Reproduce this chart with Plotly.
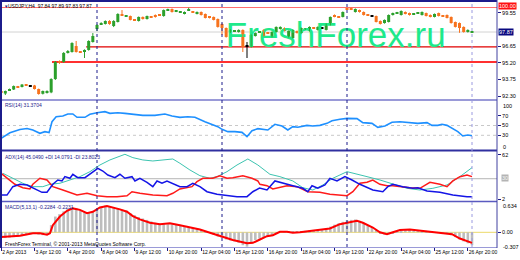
import plotly.graph_objects as go

W, H = 520, 260
def px(x): return x / W
def py(y): return 1 - y / H

# ---------------- data ----------------
bars = list(range(1, 115))
opens = [92.74, 92.52, 92.84, 92.87, 93.12, 93.09, 93.30, 93.18, 93.22, 92.91,
         92.50, 92.58, 92.62, 93.78, 95.30, 95.26, 96.05, 96.13, 96.65, 96.15,
         96.13, 96.31, 97.00, 98.13, 98.57, 98.57, 98.83, 98.39, 98.74, 99.40,
         99.24, 99.26, 98.94, 98.83, 99.18, 99.00, 99.20, 99.35, 99.37, 99.26,
         99.76, 99.87, 99.65, 99.58, 99.44, 99.76, 99.63, 99.44, 99.61, 99.44,
         99.18, 99.18, 99.00, 98.57, 98.22, 97.87, 97.94, 97.87, 98.05, 96.65,
         96.57, 97.52, 97.85, 98.05, 97.80, 97.44, 97.87, 98.13, 98.22, 97.44,
         97.35, 97.96, 97.78, 98.11, 97.96, 98.25, 98.05, 98.22, 98.05, 98.48,
         99.28, 99.20, 99.18, 99.89, 99.89, 99.61, 99.78, 99.61, 99.37, 99.26,
         99.26, 98.83, 98.65, 98.74, 99.35, 99.50, 99.35, 99.61, 99.52, 99.42,
         99.50, 99.35, 99.52, 99.35, 99.18, 99.52, 99.28, 99.35, 99.18, 98.74,
         98.65, 98.31, 97.87, 97.84]
highs = [92.80, 92.78, 92.95, 93.22, 93.18, 93.35, 93.34, 93.26, 93.27, 92.95,
         92.78, 92.80, 93.85, 95.35, 95.40, 96.12, 96.30, 96.98, 97.09, 96.20,
         96.36, 97.15, 97.78, 98.55, 98.72, 98.88, 98.90, 98.90, 99.50, 99.78,
         99.33, 99.30, 98.98, 99.22, 99.22, 99.30, 99.24, 99.40, 99.42, 99.83,
         99.90, 99.92, 99.75, 99.68, 99.66, 99.98, 99.68, 99.66, 99.66, 99.48,
         99.22, 99.22, 99.05, 98.62, 98.27, 98.10, 98.02, 98.10, 98.10, 97.00,
         97.66, 97.83, 97.94, 98.10, 97.84, 97.92, 98.36, 98.36, 98.27, 98.00,
         98.10, 98.00, 98.27, 98.20, 98.36, 98.30, 98.36, 98.27, 98.62, 99.22,
         99.40, 99.24, 99.66, 99.98, 99.98, 99.92, 99.82, 99.66, 99.40, 99.35,
         99.30, 98.88, 98.96, 99.40, 99.56, 99.62, 99.75, 99.66, 99.56, 99.50,
         99.58, 99.66, 99.56, 99.40, 99.48, 99.56, 99.32, 99.40, 99.22, 98.78,
         98.70, 98.36, 98.10, 97.89]
lows = [92.55, 92.39, 92.80, 92.83, 93.02, 93.05, 93.20, 93.10, 92.87, 92.42,
        92.44, 92.52, 92.55, 93.70, 95.10, 95.20, 96.00, 96.08, 96.08, 96.05,
        95.61, 96.25, 96.95, 97.95, 98.50, 98.52, 98.50, 98.30, 98.70, 99.30,
        99.20, 98.88, 98.85, 98.78, 98.95, 98.95, 99.10, 99.12, 99.28, 99.20,
        99.70, 99.56, 99.60, 99.53, 99.40, 99.70, 99.53, 99.40, 99.30, 99.05,
        99.05, 98.88, 98.25, 97.61, 97.38, 97.80, 97.90, 97.82, 96.13, 95.61,
        96.52, 97.48, 97.80, 97.48, 97.72, 97.40, 97.82, 98.08, 97.92, 97.40,
        97.30, 97.74, 97.74, 98.06, 97.92, 98.15, 98.00, 98.17, 98.00, 98.44,
        99.15, 99.12, 99.14, 99.78, 99.78, 99.56, 99.56, 99.30, 99.28, 99.18,
        98.70, 98.52, 98.60, 98.70, 99.30, 99.44, 99.30, 99.40, 99.30, 99.38,
        99.46, 99.30, 99.22, 99.14, 99.14, 99.22, 99.20, 99.05, 98.60, 98.26,
        97.80, 97.82, 97.82, 97.83]
closes = [92.63, 92.74, 92.88, 93.17, 93.06, 93.30, 93.24, 93.18, 92.91, 92.48,
          92.74, 92.74, 93.78, 95.26, 95.24, 96.05, 96.22, 96.91, 96.13, 96.11,
          96.31, 97.09, 97.52, 98.48, 98.65, 98.83, 98.57, 98.83, 99.44, 99.35,
          99.28, 98.92, 98.90, 99.18, 99.00, 99.26, 99.16, 99.18, 99.33, 99.78,
          99.80, 99.61, 99.70, 99.63, 99.61, 99.80, 99.58, 99.61, 99.35, 99.09,
          99.09, 98.92, 98.31, 98.22, 97.44, 98.05, 97.98, 98.05, 96.57, 96.65,
          97.61, 97.78, 97.89, 97.52, 97.76, 97.87, 98.31, 98.31, 97.96, 97.96,
          98.05, 97.78, 98.22, 98.15, 98.31, 98.20, 98.31, 98.22, 98.57, 99.18,
          99.24, 99.16, 99.61, 99.85, 99.85, 99.87, 99.61, 99.35, 99.33, 99.26,
          98.74, 98.57, 98.92, 99.35, 99.52, 99.54, 99.70, 99.44, 99.35, 99.46,
          99.54, 99.61, 99.26, 99.18, 99.44, 99.26, 99.24, 99.09, 98.65, 98.31,
          98.22, 97.87, 98.05, 97.87]

level_top = 100.00
level_bid = 97.87
level_s1 = 96.57
level_s2 = 95.26
price_ticks = [99.55, 96.65, 95.20, 93.75, 92.30]

rsi_bar = [1, 3.1, 5.5, 7.2, 8.6, 10.3, 11.5, 12.5, 13.2, 14.2, 15.8, 17, 18.2, 19.2, 21.1, 22.3, 24,
           25.9, 27.1, 29, 30.7, 32.6, 35, 37.9, 40.3, 42, 43.9, 45.8, 47.5, 49.9, 51.6, 53, 54,
           55.4, 57.1, 58.8, 60, 61.2, 62.6, 64.3, 65, 66.7, 68.4, 69.8, 71, 72.2, 74.4, 75.8,
           77.5, 79.2, 80.4, 82.3, 84, 86.4, 87.8, 90, 91.4, 93.1, 94.8, 96.7, 98.6, 101, 103.2,
           104.4, 105.8, 106.8, 108, 109.2, 110.6, 111.8, 113, 114]
rsi_val = [24, 35.3, 42, 44, 40.8, 34, 37.4, 35.4, 57.8, 68, 69.4, 73.5, 73.5, 66.7, 66.7, 72.8, 76,
           78.2, 74.8, 76, 74.8, 73.5, 70.7, 70.7, 73.5, 69.4, 66.7, 68, 66.7, 57.8, 52.4, 47.6, 42.2,
           37.4, 37.4, 36, 27.2, 39.5, 43.5, 40.8, 40.8, 52.4, 49, 40.8, 47.6, 46.3, 50.3, 49,
           50.3, 54.4, 59.8, 62.7, 64.6, 64, 55.8, 54.4, 46.3, 49, 56.5, 57.8, 55.8, 54.4, 55.8,
           50.3, 50.3, 52.4, 50.3, 44.2, 37.4, 28.6, 30.6, 29.2]

adx_bar = [1.4, 3.8, 6.2, 8.6, 11, 12.7, 15.1, 16.8, 19.9, 22.3, 24.7, 27.1, 29.5, 30.7, 32.6, 35,
           37.4, 40.8, 42.2, 43.9, 46.3, 48.7, 51.1, 52.8, 55.2, 57.6, 60.2, 62.6, 63.6, 65.5, 67.9,
           71, 73.4, 75.8, 78.2, 80.6, 84, 85.4, 88.8, 91.9, 95, 98.4, 101.5, 104.6, 108, 111.1, 114]
adx_val = [37.3, 30.6, 23.9, 19.3, 19.3, 22.5, 23.9, 27, 32.8, 39.5, 48.5, 55.3, 59.7, 62.9, 58.4, 55.3,
           53.9, 55.3, 56.6, 50.8, 41.8, 34.1, 30.6, 32.8, 39.5, 48.5, 56.6, 48.5, 44, 36, 32.8,
           27, 17.9, 14.8, 21.6, 30.6, 39.5, 37.3, 32.8, 28.3, 22.5, 17.1, 14.8, 17.1, 21.6, 32.8, 44.9]

pdi_bar = [1, 2.4, 3.8, 5.5, 7.2, 8.6, 10.8, 12, 13.4, 14.6, 15.6, 16.3, 17.5, 18.2, 19.4, 21.1, 22.3,
           24.2, 25.4, 26.6, 28.3, 29.5, 30.7, 32.4, 33.1, 34.3, 36, 37.4, 38.4, 39.6, 40.8, 42.2,
           43.9, 45.6, 47, 48.7, 50.4, 52.8, 55.2, 57.6, 60, 61.4, 63, 64.8, 66.7, 68.6, 71, 73.4,
           74.6, 75.6, 77, 78.7, 79.9, 81.6, 83.5, 85.2, 87.1, 90.2, 92.6, 93.8, 95, 97.4, 99.8,
           101, 103.2, 106.3, 109.4, 112.8, 114]
pdi_val = [8, 8, 19.3, 22.5, 21.6, 17.9, 11.7, 11.7, 22.5, 28.3, 27, 32.8, 30.6, 36, 31.4, 31.4, 36,
           44, 40.4, 35, 31.4, 36, 30.6, 32.8, 27, 30.6, 25.2, 19.3, 27, 23.9, 27, 23.9,
           19.3, 19.3, 23.9, 19.3, 12.5, 9, 7.1, 5.8, 5.8, 12.5, 17.5, 14.8, 27, 23.9, 20.6, 17.1,
           12.5, 20.6, 17.1, 21.6, 30.6, 27, 32.8, 28.3, 22.5, 14.8, 12.5, 19.3, 22.5, 19.3, 17.1,
           17.9, 13.5, 11.7, 8, 5.8, 5.8]

mdi_bar = [1, 2.4, 4.3, 6.2, 7.9, 8.6, 10.3, 12, 13.4, 15.8, 19.2, 21.6, 24, 26.4, 28.8, 31.2, 32.4,
           34.3, 37.4, 40.8, 42.2, 43.9, 45.6, 46.8, 48, 49.4, 51.8, 53.5, 55.2, 56.6, 59, 61.2,
           62.6, 63.1, 64.8, 66.2, 69.6, 72, 74.6, 77.5, 79.9, 82.3, 84, 85.4, 87.1, 88.8, 90.2,
           91.9, 93.6, 95, 96.7, 99.1, 101.5, 103.9, 106.3, 108, 109.4, 111.1, 112.8, 114]
mdi_val = [37.3, 30.6, 22.5, 17.9, 16.2, 22.5, 30.6, 28.3, 19.3, 14.8, 8, 10.4, 7.1, 5.8, 5.8, 7.1, 12.5,
           10.4, 8, 7.1, 10.4, 16.2, 17.9, 19.3, 26, 30.6, 30.6, 34.1, 30.6, 31.4, 34.1, 30.6,
           27, 22.5, 20.6, 16.2, 20.6, 19.3, 12.5, 11.7, 9, 8, 7.1, 12.5, 23.9, 25.2, 28.3,
           22.5, 20.6, 20.6, 19.3, 17.9, 17.1, 25.2, 22.5, 19.3, 27, 32.8, 35, 32.8]

macd_hist = [-0.12, -0.12, -0.11, -0.10, -0.09, -0.08, -0.06, -0.04, -0.03, -0.05,
             -0.06, -0.05, 0.15, 0.33, 0.38, 0.44, 0.49, 0.52, 0.51, 0.46,
             0.42, 0.40, 0.43, 0.47, 0.53, 0.56, 0.55, 0.53, 0.50, 0.48,
             0.46, 0.40, 0.36, 0.32, 0.29, 0.26, 0.23, 0.20, 0.18, 0.17,
             0.17, 0.17, 0.16, 0.14, 0.12, 0.10, 0.09, 0.08, 0.05, 0.03,
             0.00, -0.05, -0.09, -0.12, -0.15, -0.17, -0.19, -0.22, -0.27, -0.30,
             -0.24, -0.16, -0.13, -0.11, -0.09, -0.06, -0.03, 0.00, 0.02, 0.01,
             0.01, 0.02, 0.02, 0.03, 0.04, 0.05, 0.06, 0.07, 0.09, 0.12,
             0.16, 0.19, 0.22, 0.25, 0.26, 0.27, 0.24, 0.20, 0.15, 0.10,
             0.05, -0.02, -0.05, -0.04, -0.02, 0.02, 0.04, 0.05, 0.06, 0.06,
             0.05, 0.04, 0.03, 0.01, 0.00, -0.01, -0.01, -0.03, -0.06, -0.10,
             -0.15, -0.19, -0.23, -0.27]

sig_bar = [1, 5.5, 8.6, 10.3, 12, 12.7, 13.4, 15.1, 16.8, 18.2, 19.9, 21.6, 23, 24.7, 26.4, 27.8,
           29.5, 31.2, 32.6, 34.3, 36.7, 39.1, 41.5, 43.9, 46.3, 48.7, 51.1, 53.5, 56.6, 60,
           61.4, 63.1, 64.8, 66.2, 67.9, 69.6, 71, 72.7, 75.1, 77.5, 79.9, 82.3, 84.7, 86.4,
           87.8, 90.2, 91.9, 93.6, 95, 96.7, 99.1, 102.2, 104.6, 107, 109.2, 111.1, 112.8, 114]
sig_val = [-0.10, -0.07, -0.02, -0.02, -0.05, -0.02, 0.15, 0.33, 0.45, 0.50, 0.47, 0.40, 0.43, 0.52,
           0.55, 0.52, 0.48, 0.43, 0.34, 0.27, 0.20, 0.17, 0.19, 0.15, 0.10, 0.06, -0.01, -0.08,
           -0.16, -0.23, -0.22, -0.15, -0.08, -0.06, 0.01, 0.01, -0.01, 0.00, 0.03, 0.05, 0.08,
           0.17, 0.22, 0.24, 0.20, 0.10, 0.00, -0.04, 0.00, 0.05, 0.06, 0.03, 0.00, -0.01, -0.04,
           -0.13, -0.18, -0.22]

x_tick_bars = [1, 9, 17, 25, 33, 41, 49, 57, 65, 73, 81, 89, 97, 105, 113]
x_tick_text = ["2 Apr 2013", "3 Apr 12:00", "4 Apr 20:00", "8 Apr 04:00", "9 Apr 12:00",
               "10 Apr 20:00", "12 Apr 04:00", "15 Apr 12:00", "16 Apr 20:00", "18 Apr 04:00",
               "19 Apr 12:00", "22 Apr 20:00", "24 Apr 04:00", "25 Apr 12:00", "26 Apr 20:00"]
week_starts = [24, 54, 84]
last_bar = 114

# ---------------- styling ----------------
GREEN = "#2ca02c"
ORANGE = "#f7731e"
NAVY = "#1c1c8c"
LAV = "#9a9ad8"
FONT = "Liberation Sans"

X_RANGE = [0.96, 120.0]

fig = go.Figure()

# watermark (drawn first, behind candles)
fig.add_trace(go.Scatter(x=[81.3], y=[97.35], mode="text", text=["FreshForex.ru"],
                         textfont=dict(size=35, color="#1ee98b", family=FONT),
                         hoverinfo="skip", showlegend=False, xaxis="x", yaxis="y"))

# candles
groups = {"up": ([], [], []), "dn": ([], [], []), "dj": ([], [], [])}
wicks = {"up": ([], []), "dn": ([], []), "dj": ([], [])}
MINB = 0.09
for b, o, h, l, c in zip(bars, opens, highs, lows, closes):
    k = "up" if c > o else ("dn" if c < o else "dj")
    lo, hi = min(o, c), max(o, c)
    if hi - lo < MINB:
        mid = (hi + lo) / 2
        lo, hi = mid - MINB / 2, mid + MINB / 2
    groups[k][0].append(b); groups[k][1].append(lo); groups[k][2].append(hi - lo)
    wicks[k][0].extend([b, b, None]); wicks[k][1].extend([l, h, None])
cols = {"up": GREEN, "dn": ORANGE, "dj": "#000000"}
for k in ["up", "dn", "dj"]:
    fig.add_trace(go.Scatter(x=wicks[k][0], y=wicks[k][1], mode="lines",
                             line=dict(color=cols[k], width=1), hoverinfo="skip",
                             showlegend=False, xaxis="x", yaxis="y"))
    fig.add_trace(go.Bar(x=groups[k][0], y=groups[k][2], base=groups[k][1], width=0.72,
                         marker=dict(color=cols[k], line=dict(width=0)),
                         showlegend=False, xaxis="x", yaxis="y"))

# RSI
fig.add_trace(go.Scatter(x=rsi_bar, y=rsi_val, mode="lines", line=dict(color="#1e90ff", width=1.6),
                         showlegend=False, xaxis="x", yaxis="y2"))
# ADX
fig.add_trace(go.Scatter(x=adx_bar, y=adx_val, mode="lines", line=dict(color="#3cc4b0", width=1),
                         showlegend=False, xaxis="x", yaxis="y3"))
fig.add_trace(go.Scatter(x=mdi_bar, y=mdi_val, mode="lines", line=dict(color="#ff1a1a", width=1.5),
                         showlegend=False, xaxis="x", yaxis="y3"))
fig.add_trace(go.Scatter(x=pdi_bar, y=pdi_val, mode="lines", line=dict(color="#1414e6", width=1.5),
                         showlegend=False, xaxis="x", yaxis="y3"))
# MACD
fig.add_trace(go.Bar(x=bars, y=macd_hist, width=0.62, marker=dict(color="#bdbdbd", line=dict(width=0)),
                     showlegend=False, xaxis="x", yaxis="y4"))
fig.add_trace(go.Scatter(x=sig_bar, y=sig_val, mode="lines", line=dict(color="#ff0000", width=2),
                         showlegend=False, xaxis="x", yaxis="y4"))

# ---------------- layout ----------------
def yax(dom_top, dom_bot, rng, tickvals, ticktext=None):
    d = dict(domain=[py(dom_bot), py(dom_top)], range=rng, anchor="x", side="right",
             showgrid=False, zeroline=False, showline=False, fixedrange=True,
             tickvals=tickvals, ticks="outside", ticklen=3, tickcolor=NAVY, tickwidth=1,
             tickfont=dict(size=5.5, color="#000000", family=FONT))
    if ticktext is not None:
        d["ticktext"] = ticktext
    return d

fig.update_layout(
    width=W, height=H, margin=dict(l=0, r=0, t=0, b=0),
    paper_bgcolor="white", plot_bgcolor="white", barmode="overlay", showlegend=False,
    xaxis=dict(domain=[px(1), px(497)], range=X_RANGE, anchor="y4", showgrid=False,
               zeroline=False, showline=True, linecolor=LAV, linewidth=1,
               tickvals=x_tick_bars, ticktext=x_tick_text, ticks="outside", ticklen=3,
               tickcolor=NAVY, ticklabelposition="outside right", tickangle=0,
               tickfont=dict(size=5, color="#000000", family=FONT)),
    yaxis=yax(2, 99, [92.045, 100.48], price_ticks, [f"{v:.2f}" for v in price_ticks]),
    yaxis2=yax(101, 150, [0, 100], [70, 50, 30]),
    yaxis3=yax(152, 201, [0, 66], [62, 2]),
    yaxis4=yax(202, 247, [-0.307, 0.634], [0], ["0.00"]),
)

shapes = []
def hline_px(y, color, width, x0=0, x1=497):
    shapes.append(dict(type="line", xref="paper", yref="paper", x0=px(x0), x1=px(x1),
                       y0=py(y), y1=py(y), line=dict(color=color, width=width)))
# frame
hline_px(1, NAVY, 2)
hline_px(100, LAV, 2)
hline_px(150.5, "#3030a0", 2)
hline_px(201.5, "#5a5ac0", 1.5)
shapes.append(dict(type="line", xref="paper", yref="paper", x0=px(1), x1=px(1), y0=py(248), y1=py(0),
                   line=dict(color=NAVY, width=2)))
shapes.append(dict(type="line", xref="paper", yref="paper", x0=px(497), x1=px(497), y0=py(248), y1=py(0),
                   line=dict(color="#4040a0", width=1)))
# price levels
shapes.append(dict(type="line", xref="x", yref="y", x0=X_RANGE[0], x1=X_RANGE[1], y0=level_bid, y1=level_bid,
                   line=dict(color="#d2d2d2", width=1), layer="below"))
shapes.append(dict(type="line", xref="x", yref="y", x0=X_RANGE[0], x1=X_RANGE[1], y0=level_top, y1=level_top,
                   line=dict(color="#ff6b6b", width=1), layer="below"))
shapes.append(dict(type="line", xref="x", yref="y", x0=21.4, x1=X_RANGE[1], y0=level_s1, y1=level_s1,
                   line=dict(color="#e00000", width=1.3), layer="below"))
shapes.append(dict(type="line", xref="x", yref="y", x0=13.2, x1=X_RANGE[1], y0=level_s2, y1=level_s2,
                   line=dict(color="#ff3030", width=2), layer="below"))
# indicator levels
for lv in [50, 30]:
    shapes.append(dict(type="line", xref="x", yref="y2", x0=X_RANGE[0], x1=X_RANGE[1], y0=lv, y1=lv,
                       line=dict(color="#c8c8c8", width=1, dash="dot"), layer="below"))
shapes.append(dict(type="line", xref="x", yref="y3", x0=X_RANGE[0], x1=X_RANGE[1], y0=30, y1=30,
                   line=dict(color="#b4b4b4", width=1), layer="below"))
shapes.append(dict(type="line", xref="x", yref="y4", x0=X_RANGE[0], x1=X_RANGE[1], y0=0, y1=0,
                   line=dict(color="#ecd96a", width=1), layer="below"))
# period separators
for b in week_starts:
    shapes.append(dict(type="line", xref="x", yref="paper", x0=b, x1=b, y0=py(247), y1=py(2),
                       line=dict(color=NAVY, width=1, dash="dot")))
shapes.append(dict(type="line", xref="x", yref="paper", x0=last_bar, x1=last_bar, y0=py(247), y1=py(2),
                   line=dict(color="#9a9ae0", width=1, dash="dot")))
fig.update_layout(shapes=shapes)

ann = []
def label(x, y, text, size=5, color="#000000", bg=None, xanchor="left"):
    a = dict(xref="paper", yref="paper", x=px(x), y=py(y), text=text, showarrow=False,
             xanchor=xanchor, yanchor="middle", font=dict(size=size, color=color, family=FONT))
    if bg:
        a.update(bgcolor=bg, borderpad=0)
    ann.append(a)

label(2, 6, "▼", size=4.5, color=NAVY)
label(6, 6, "USDJPY,H4  97.84 97.89 97.83 97.87")
label(3, 105, "RSI(14) 31.3704", color=NAVY)
label(3, 157, "ADX(14) 45.0490 +DI 14.0791 -DI 23.8023", color=NAVY)
label(3, 207, "MACD(5,13,1) -0.2284 -0.2231", color=NAVY)
label(3, 243.5, "FreshForex Terminal, © 2001-2013 MetaQuotes Software Corp.")
# right-axis boxed / edge labels
label(497.5, 6, "100.00", size=5.5, color="white", bg="#ff1010")
label(497.5, 32, "97.87", size=5.5, color="white", bg="#0a0a80")
label(501, 105.5, "100", size=5.5)
label(501, 147, "0", size=5.5)
label(501, 178, "30", size=5.5, color="#f4f4f4", bg="#b4b4b4")
label(501, 206, "0.634", size=5.5)
label(501, 246.5, "-0.307", size=5.5)
fig.update_layout(annotations=ann)

fig.write_html("out.html")
